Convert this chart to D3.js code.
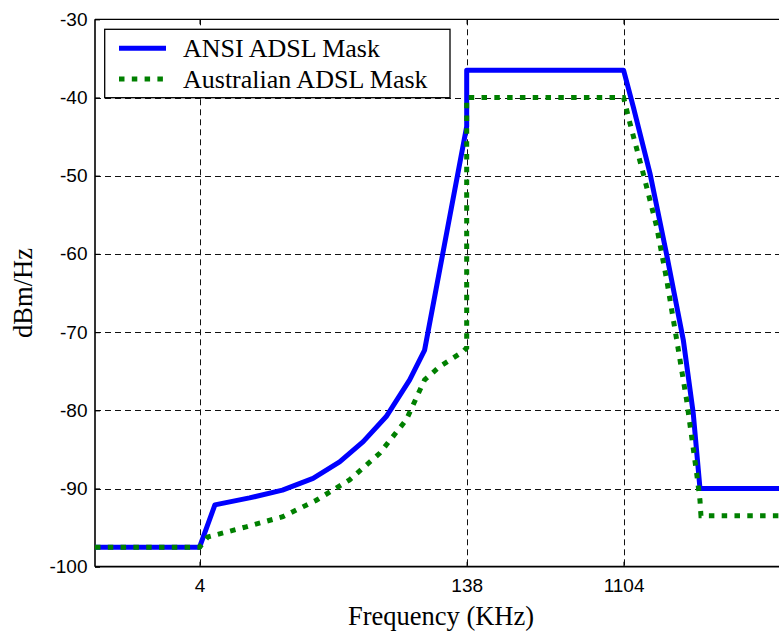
<!DOCTYPE html>
<html>
<head>
<meta charset="utf-8">
<script src="https://cdn.jsdelivr.net/npm/d3@7/dist/d3.min.js"></script>
<style>
  html, body { margin: 0; padding: 0; background: #fff; }
  svg { display: block; }
</style>
</head>
<body>
<svg id="chart" width="779" height="632"></svg>
<script>
// ---- data (frequency in kHz, PSD in dBm/Hz) ----
const ansiFreq = [1, 4, 4.9, 7.75, 12, 18, 25.6, 35, 47.5, 64.8, 79, 138, 138, 1104, 1256, 1567, 1955, 2437, 2781, 3040, 10000];
const ansiPsd  = [-97.5, -97.5, -92.1, -91.2, -90.2, -88.7, -86.6, -84.0, -80.8, -76.1, -72.3, -43.7, -36.5, -36.5, -41.2, -49.7, -60.1, -71.0, -80.4, -90, -90];

const ausFreq = [1, 4, 4.46, 7.42, 12.06, 18.8, 29.2, 43.5, 62, 79, 96.5, 131.5, 138, 138, 1104, 1202, 1432, 1711, 1955, 2233, 2547, 2911, 3040, 3080, 10000];
const ausPsd  = [-97.5, -97.5, -96.2, -94.9, -93.6, -91.5, -88.9, -85.5, -81.2, -76.1, -74.4, -72.5, -72, -40, -40, -43.3, -49.7, -56.5, -63.3, -71.0, -78.7, -88.1, -91.5, -93.5, -93.5];

const seriesNames = ["ANSI ADSL Mask", "Australian ADSL Mask"];
const xTicks = [4, 138, 1104];
const yTicks = [-100, -90, -80, -70, -60, -50, -40, -30];
const xDomain = [1, 10000];
const yDomain = [-100, -30];
const xTitle = "Frequency (KHz)";
const yTitle = "dBm/Hz";

(function () {
// ---- layout ----
const pL = 95, pR = 789.8, pT = 19.3, pB = 566.7;
const svg = d3.select("#chart");

const x = d3.scaleLog().domain(xDomain).range([pL, pR]);
const y = d3.scaleLinear().domain(yDomain).range([pB, pT]);

// grid
const grid = svg.append("g").attr("stroke", "#111").attr("stroke-width", 1)
  .attr("stroke-dasharray", "6,4").attr("fill", "none");
grid.selectAll("line.v").data(xTicks).join("line").attr("class", "v")
  .attr("x1", d => Math.round(x(d)) + 0.5).attr("x2", d => Math.round(x(d)) + 0.5)
  .attr("y1", pT).attr("y2", pB);
grid.selectAll("line.h").data(yTicks.filter(d => d > yDomain[0] && d < yDomain[1])).join("line").attr("class", "h")
  .attr("y1", d => Math.round(y(d)) + 0.5).attr("y2", d => Math.round(y(d)) + 0.5)
  .attr("x1", pL).attr("x2", pR);

// axes
const fontTick = "'Liberation Sans', Arial, sans-serif";
const yAxis = d3.axisLeft(y).tickValues(yTicks).tickSize(-5).tickPadding(7.5).tickFormat(d => String(d));
const gy = svg.append("g").attr("transform", `translate(${pL},0)`).call(yAxis);
const xAxis = d3.axisBottom(x).tickValues(xTicks).tickSize(-5).tickPadding(12).tickFormat(d => String(d));
const gx = svg.append("g").attr("transform", `translate(0,${pB})`).call(xAxis);
const xTop = d3.axisTop(x).tickValues(xTicks).tickSize(-5).tickFormat("");
const gt = svg.append("g").attr("transform", `translate(0,${pT})`).call(xTop);
gt.select(".domain").remove();
gt.selectAll(".tick line").attr("stroke", "#000").attr("stroke-width", 1.2);
[gx, gy].forEach(g => {
  g.select(".domain").remove();
  g.selectAll(".tick line").attr("stroke", "#000").attr("stroke-width", 1.2);
  g.selectAll("text").attr("font-family", fontTick).attr("font-size", 19).attr("fill", "#000");
});

// frame
svg.append("line").attr("x1", pL).attr("x2", pR + 5).attr("y1", pT).attr("y2", pT)
  .attr("stroke", "#000").attr("stroke-width", 1.3);
svg.append("line").attr("x1", pL).attr("x2", pR + 5).attr("y1", pB).attr("y2", pB)
  .attr("stroke", "#000").attr("stroke-width", 1.8);
svg.append("line").attr("x1", pL).attr("x2", pL).attr("y1", pT).attr("y2", pB)
  .attr("stroke", "#000").attr("stroke-width", 1.6);
svg.append("line").attr("x1", pR).attr("x2", pR).attr("y1", pT).attr("y2", pB)
  .attr("stroke", "#000").attr("stroke-width", 1.3);

// lines
const line = d3.line().x(d => x(d[0])).y(d => y(d[1]));
const ansiData = ansiFreq.map((f, i) => [f, ansiPsd[i]]);
const ausData = ausFreq.map((f, i) => [f, ausPsd[i]]);

svg.append("path").datum(ansiData).attr("d", line)
  .attr("fill", "none").attr("stroke", "#0000ff").attr("stroke-width", 5).attr("stroke-linejoin", "round");
svg.append("path").datum(ausData).attr("d", line)
  .attr("fill", "none").attr("stroke", "#008000").attr("stroke-width", 5)
  .attr("stroke-dasharray", "5.5,7.3");

// legend
const lg = svg.append("g");
lg.append("rect").attr("x", 104.7).attr("y", 29.3).attr("width", 345.3).attr("height", 68.4)
  .attr("fill", "#fff").attr("stroke", "#000").attr("stroke-width", 1.3);
const legendRows = [
  { name: seriesNames[0], color: "#0000ff", dash: null, yy: 48.3 },
  { name: seriesNames[1], color: "#008000", dash: "5.5,7.3", yy: 79 }
];
legendRows.forEach(r => {
  lg.append("line").attr("x1", 119).attr("x2", 166).attr("y1", r.yy).attr("y2", r.yy)
    .attr("stroke", r.color).attr("stroke-width", 5).attr("stroke-dasharray", r.dash);
  lg.append("text").attr("x", 183).attr("y", r.yy + 9)
    .attr("font-family", "'Liberation Serif', 'Times New Roman', serif").attr("font-size", 26)
    .attr("fill", "#000").text(r.name);
});

// titles
svg.append("text").attr("x", 441).attr("y", 625)
  .attr("text-anchor", "middle").attr("font-family", "'Liberation Serif', 'Times New Roman', serif")
  .attr("font-size", 26.5).attr("fill", "#000").text(xTitle);
svg.append("text").attr("transform", `translate(32,${(pT + pB) / 2}) rotate(-90)`)
  .attr("text-anchor", "middle").attr("font-family", "'Liberation Serif', 'Times New Roman', serif")
  .attr("font-size", 26.5).attr("fill", "#000").text(yTitle);
})();
</script>
</body>
</html>
